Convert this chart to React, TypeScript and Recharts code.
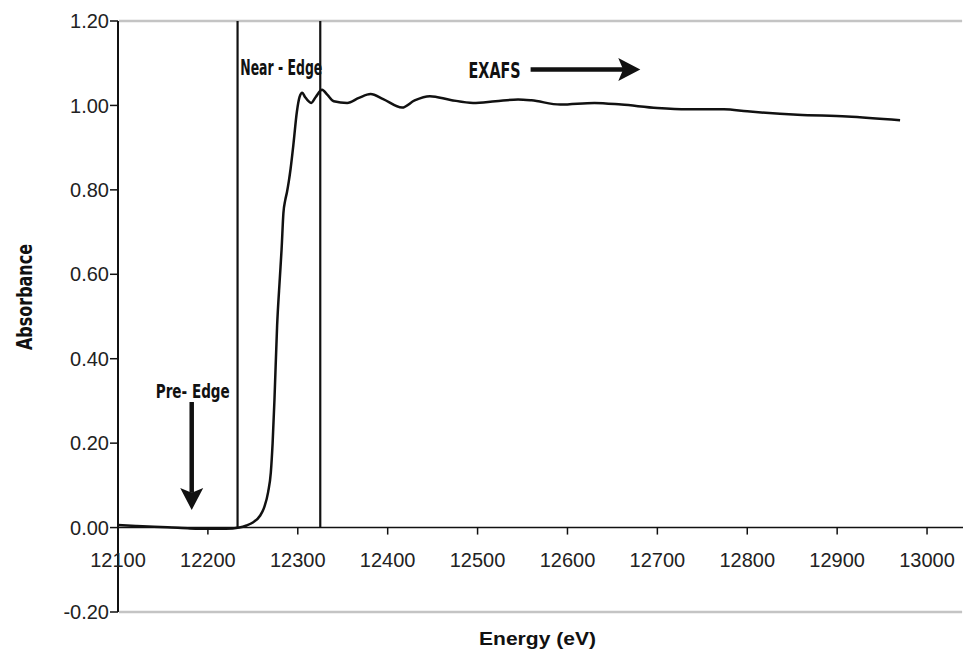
import React from 'react';
import { LineChart, Line, XAxis, YAxis, ReferenceLine, ReferenceDot } from 'recharts';

const energy = [
  12100, 12120, 12140, 12160, 12180, 12200, 12220, 12235, 12243, 12250,
  12258, 12263, 12267, 12270, 12272, 12274, 12277, 12280, 12282, 12284,
  12286, 12288, 12290, 12292, 12295, 12299, 12302, 12305, 12308, 12315,
  12320, 12327, 12333, 12340, 12355, 12368, 12381, 12395, 12416, 12430,
  12447, 12470, 12495, 12520, 12545, 12560, 12592, 12630, 12660, 12700,
  12733, 12774, 12800, 12856, 12911, 12970,
];
const absorbance = [
  0.006, 0.004, 0.002, 0.0, -0.002, -0.003, -0.003, 0.0, 0.005, 0.012,
  0.028, 0.05, 0.084, 0.13, 0.2, 0.3, 0.478, 0.59, 0.66, 0.745,
  0.775, 0.795, 0.82, 0.85, 0.905, 0.985, 1.02, 1.03, 1.02, 1.006,
  1.02, 1.037, 1.025, 1.01, 1.006, 1.018, 1.027, 1.015, 0.995, 1.012,
  1.022, 1.013, 1.006, 1.01, 1.014, 1.012, 1.002, 1.006, 1.002, 0.994,
  0.991, 0.991, 0.986, 0.978, 0.974, 0.965,
];
const yTicks = [-0.2, 0, 0.2, 0.4, 0.6, 0.8, 1.0, 1.2];
const xTicks = [12100, 12200, 12300, 12400, 12500, 12600, 12700, 12800, 12900, 13000];
const xDomain = [12100, 13040];
const yDomain = [-0.2, 1.2];
const edgeLines = [12233, 12325];
const frameValues = [1.2, -0.2];
const frameSpan = [12101, 13039];

const annotationTexts = ['Near - Edge', 'EXAFS', 'Pre- Edge'];
const annotationX = [12236, 12490, 12142];
const annotationY = [1.091, 1.084, 0.3235];
const annotationWidth = [82, 52, 74];
const annotationSize = [22, 22, 20];

const arrowStartX = [12559, 12182];
const arrowStartY = [1.085, 0.2974];
const arrowEndX = [12681, 12182];
const arrowEndY = [1.085, 0.0416];

const data = energy.map((e, i) => ({ e, a: absorbance[i] }));

const tickFont = "'Liberation Sans', Arial, sans-serif";
const narrowFont = "'Liberation Sans Narrow', 'DejaVu Sans Condensed', 'Liberation Sans', sans-serif";

const arrowShape = (p: any) => {
  const { x1, y1, x2, y2 } = p;
  const dx = x2 - x1;
  const dy = y2 - y1;
  const len = Math.hypot(dx, dy) || 1;
  const ux = dx / len;
  const uy = dy / len;
  const head = 22;
  const half = 11.5;
  const bx = x2 - ux * head;
  const by = y2 - uy * head;
  const nx = x2 - ux * head * 0.78;
  const ny = y2 - uy * head * 0.78;
  const px = -uy;
  const py = ux;
  const pts = `${x2},${y2} ${bx + px * half},${by + py * half} ${nx},${ny} ${bx - px * half},${by - py * half}`;
  return (
    <g>
      <line x1={x1} y1={y1} x2={nx} y2={ny} stroke="#111" strokeWidth={4.5} />
      <polygon points={pts} fill="#111" />
    </g>
  );
};

const frameShape = (p: any) => (
  <line x1={p.x1} y1={p.y1} x2={p.x2} y2={p.y2} stroke="#c4c4c4" strokeWidth={2.5} />
);

const EnergyLabel = (props: any) => {
  const vb = props.viewBox || { x: 118, y: 612, width: 845, height: 43 };
  const cx = vb.x + vb.width / 2 - 3;
  const y = vb.y + 33;
  return (
    <text x={cx} y={y} textAnchor="middle" fontFamily={tickFont} fontWeight="bold" fontSize={19} fill="#111"
      textLength={117} lengthAdjust="spacingAndGlyphs">
      Energy (eV)
    </text>
  );
};

const AbsorbanceLabel = (props: any) => {
  const vb = props.viewBox || { x: 0, y: 21, width: 118, height: 591 };
  const cx = vb.x + 32;
  const cy = vb.y + vb.height * 0.467;
  return (
    <text x={cx} y={cy} transform={`rotate(-90 ${cx} ${cy})`} textAnchor="middle" fontFamily={narrowFont}
      fontWeight="bold" fontSize={21} fill="#111" textLength={106} lengthAdjust="spacingAndGlyphs">
      Absorbance
    </text>
  );
};

export default function App() {
  return (
    <div style={{ position: 'absolute', left: 0, top: 0, width: 963, height: 655, background: '#fff' }}>
      <LineChart width={963} height={655} data={data} margin={{ top: 21, right: 0, bottom: 0, left: 0 }}>
        <XAxis
          dataKey="e"
          type="number"
          domain={xDomain}
          allowDataOverflow
          height={43}
          tick={false}
          tickLine={false}
          axisLine={false}
          label={{ content: EnergyLabel }}
        />
        <YAxis
          type="number"
          domain={yDomain}
          ticks={yTicks}
          allowDataOverflow
          width={118}
          tickSize={8}
          tickMargin={1}
          axisLine={{ stroke: '#111', strokeWidth: 2 }}
          tickLine={{ stroke: '#111', strokeWidth: 1.5 }}
          tick={{ fontSize: 20, fill: '#222', fontFamily: tickFont }}
          tickFormatter={(v: number) => v.toFixed(2)}
          label={{ content: AbsorbanceLabel }}
        />
        {frameValues.map((y) => (
          <ReferenceLine
            key={`frame-${y}`}
            segment={[{ x: frameSpan[0], y }, { x: frameSpan[1], y }]}
            ifOverflow="visible"
            shape={frameShape}
          />
        ))}
        <ReferenceLine y={0} stroke="#111" strokeWidth={1.5} ifOverflow="visible" />
        {edgeLines.map((x) => (
          <ReferenceLine key={`edge-${x}`} segment={[{ x, y: 0 }, { x, y: 1.2 }]} stroke="#111" strokeWidth={2.2} ifOverflow="visible" />
        ))}
        {xTicks.map((t) => (
          <ReferenceDot
            key={`xt-${t}`}
            x={t}
            y={0}
            ifOverflow="visible"
            shape={(p: any) => (
              <g>
                <line x1={p.cx} y1={p.cy} x2={p.cx} y2={p.cy + 7} stroke="#111" strokeWidth={1.5} />
                <text x={p.cx} y={p.cy + 39} textAnchor="middle" fontFamily={tickFont} fontSize={20} fill="#222">
                  {t}
                </text>
              </g>
            )}
          />
        ))}
        {annotationTexts.map((txt, i) => (
          <ReferenceDot
            key={`ann-${i}`}
            x={annotationX[i]}
            y={annotationY[i]}
            ifOverflow="visible"
            shape={(p: any) => (
              <text x={p.cx} y={p.cy} dy="0.36em" textAnchor="start" fontFamily={narrowFont} fontWeight="bold"
                fontSize={annotationSize[i]} fill="#111" textLength={annotationWidth[i]} lengthAdjust="spacingAndGlyphs">
                {txt}
              </text>
            )}
          />
        ))}
        {arrowStartX.map((x, i) => (
          <ReferenceLine
            key={`arrow-${i}`}
            segment={[{ x, y: arrowStartY[i] }, { x: arrowEndX[i], y: arrowEndY[i] }]}
            ifOverflow="visible"
            shape={arrowShape}
          />
        ))}
        <Line
          type="monotone"
          dataKey="a"
          stroke="#111"
          strokeWidth={2.5}
          dot={false}
          activeDot={false}
          isAnimationActive={false}
        />
      </LineChart>
    </div>
  );
}
